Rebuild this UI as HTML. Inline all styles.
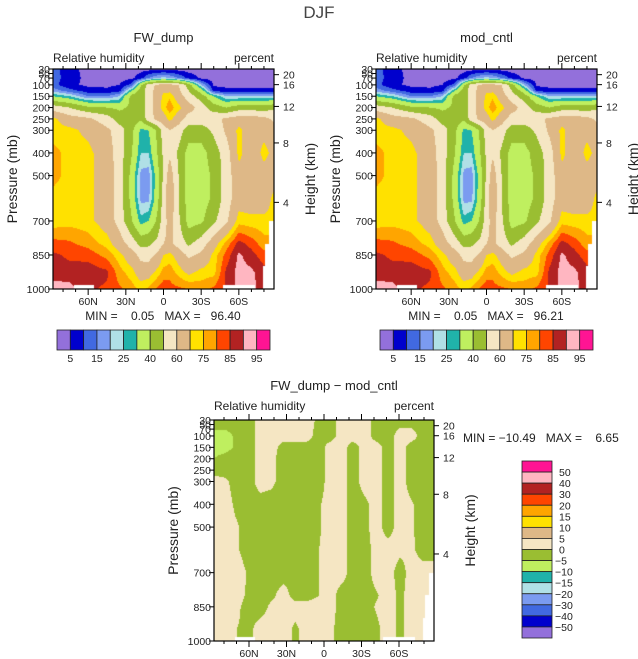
<!DOCTYPE html>
<html><head><meta charset="utf-8"><style>
html,body{margin:0;padding:0;background:#fff;}
#wrap{position:relative;width:638px;height:659px;overflow:hidden;font-family:"Liberation Sans",sans-serif;}
canvas{position:absolute;}
svg{position:absolute;left:0;top:0;}
text{font-family:"Liberation Sans",sans-serif;fill:#222;}
</style></head><body>
<div id="wrap">
<canvas id="c1" width="221" height="220" style="left:53px;top:69px"></canvas>
<canvas id="c2" width="221" height="220" style="left:376px;top:69px"></canvas>
<canvas id="c3" width="220" height="221" style="left:214px;top:420px"></canvas>
<svg id="ov" width="638" height="659"></svg>
</div>
<script>
// ---- data ----
const rhLats = [88,75,60,45,35,25,18,12,5,0,-5,-12,-20,-30,-40,-50,-60,-70,-80,-88];
const rhPres = [30,70,100,125,150,200,250,300,400,500,600,700,800,850,925,1000];
const rhFW = [
[12,7,3,3,3,3,3,3,3,3,3,3,3,3,3,3,3,3,3,3],
[12,8,3,3,3,4,8,15,20,22,20,15,8,4,3,3,3,3,3,3],
[12,6,4,4,5,12,38,55,62,63,63,60,45,20,4,4,4,4,4,4],
[18,12,7,6,8,30,45,55,64,68,68,62,50,35,8,6,6,6,6,6],
[30,25,15,15,20,45,45,55,65,72,74,65,55,45,30,20,20,20,20,20],
[55,50,42,40,38,42,45,55,65,73,78,72,65,55,45,40,45,45,45,48],
[72,65,62,55,45,45,42,55,63,66,72,65,55,55,57,62,65,65,63,58],
[72,72,68,62,55,42,28,30,42,55,60,55,45,45,52,62,72,65,68,65],
[77,73,72,65,55,40,25,25,40,52,58,48,36,36,45,55,72,65,72,68],
[77,73,72,66,55,36,18,17,35,52,66,50,35,35,42,55,67,65,67,66],
[73,72,72,66,55,36,18,18,36,55,70,50,35,35,42,55,66,65,65,72],
[72,73,72,66,56,40,27,30,42,56,64,52,36,38,48,58,73,72,72,72],
[82,81,78,73,65,55,47,48,53,60,62,56,48,55,66,77,87,83,77,77],
[86,84,83,78,72,64,57,56,62,70,72,66,58,62,72,82,91,87,82,82],
[88,87,88,86,77,72,65,66,72,77,78,73,68,72,73,86,92,91,87,87],
[92,92,86,84,81,77,74,76,81,83,82,81,80,78,81,86,92,92,87,87]];
const rhCntl = [
[12,7,3,3,3,3,3,3,3,3,3,3,3,3,3,3,3,3,3,3],
[12,8,3,3,3,4,8,15,20,22,20,15,8,4,3,3,3,3,3,3],
[12,6,4,4,5,12,38,55,62,63,63,60,45,20,4,4,4,4,4,4],
[18,12,7,6,8,30,45,55,64,68,68,62,50,35,8,6,6,6,6,6],
[30,25,15,15,20,45,45,55,65,72,74,65,55,45,30,20,20,20,20,20],
[55,50,42,40,38,42,45,55,65,73,78,72,65,55,45,40,45,45,45,48],
[72,65,62,55,45,45,42,55,63,66,72,65,55,55,57,62,65,65,63,58],
[72,72,68,62,55,42,28,30,42,55,60,55,45,45,52,62,72,65,68,65],
[77,73,72,65,55,40,25,25,40,52,58,48,36,36,45,55,72,65,72,68],
[77,73,72,66,55,36,18,17,35,52,66,50,35,35,42,55,67,65,67,66],
[73,72,72,66,55,36,18,18,36,55,70,50,35,35,42,55,66,65,65,72],
[72,73,72,66,56,40,27,30,42,56,64,52,36,38,48,58,73,72,72,72],
[82,81,78,73,65,55,47,48,53,60,62,56,48,55,66,77,87,83,77,77],
[86,84,83,78,72,64,57,56,62,70,72,66,58,62,72,82,91,87,82,82],
[88,87,88,86,77,72,65,66,72,77,78,73,68,72,73,86,92,91,87,87],
[92,92,86,84,81,77,74,76,81,83,82,81,80,78,81,86,92,92,87,87]];
const diffLats = [88,79,70,60,51,42,32,23,14,4,-5,-14,-23,-33,-42,-51,-61,-70,-79,-88];
const diffPres = [30,100,150,200,250,300,400,500,600,700,800,850,950,1000];
const diffVals = [
[-2,-2,-2,-2,2,2,2,2,2,-1,-2,2,2,2,-2,-2,-2,-2,-2,-2],
[-7,-7,-4,-2,2,2,2,2,2,-2,-2,2,2,2,-2,-2,2,2,-2,-2],
[-7,-7,-4,-2,2,2,-2,-2,-2,-2,2,2,-2,2,2,-2,2,-2,-2,-2],
[-5,-3,-2,-2,2,1,-2,-2,-2,-2,2,2,-2,2,2,-2,2,-2,-2,-2],
[-2,-2,-2,-2,2,1,-2,-2,-2,-2,2,2,-2,2,2,-2,2,-2,-2,-2],
[2,1,-2,-2,2,1,-2,-2,-2,-2,2,2,-2,2,2,-2,2,-2,-2,-2],
[2,2,-1,-2,-2,-2,-2,-2,-2,-0.5,2,2,-2,-1,2,-2,2,0.5,-2,-2],
[2,2,0.5,-2,-2,-2,-2,-2,-2,-0.5,2,2,-2,-1,2,-2,2,0.5,-2,-2],
[2,2,0.5,-2,-2,-2,-2,-2,-2,0,2,2,-2,-2,2,2,1,1,-2,-2],
[2,2,2,-0.5,-2,-2,-2,-2,-2,0,2,2,-2,-2,2,2,-2,2,2,2],
[2,2,2,-1,-2,-1,2,-2,-2,0,2,-2,-2,-2,-0.5,2,-1,2,2,2],
[2,2,1,-2,-2,1,2,2,2,2,2,-2,-2,-2,0.5,2,-1,2,2,2],
[2,2,0,-1,2,2,2,-1,2,2,1,-2,-2,-2,-1,2,-1,2,2,2],
[2,2,0,-1,2,2,2,-1,2,2,1,-2,-2,-2,-1,2,-1,2,2,2]];
// missing-data regions: [latMin, latMax, pMin]
const missingRegions = [[-88,-84,700],[-88,-81,800],[-88,-79.5,900],[-73,-47,981],[55,71.5,981]];
const rhLevels = [5,10,15,20,25,30,40,50,60,70,75,80,85,90,95];
const rhLabels = ["5","15","25","40","60","75","85","95"];
const diffLevels = [-50,-40,-30,-20,-15,-10,-5,0,5,10,15,20,30,40,50];
const diffLabels = ["50","40","30","20","15","10","5","0","\u22125","\u221210","\u221215","\u221220","\u221230","\u221240","\u221250"];
const palette = ["#9370DB","#0000CD","#4169E1","#7B9BF0","#B0E0E6","#20B2AA","#BFEF5F","#9ABE32","#F5E6C3","#DEB887","#FFE100","#FFA500","#FF4500","#B22222","#FFB6C1","#FF1493"];
const presTicks = [30,50,70,100,150,200,250,300,400,500,700,850,1000];
const heightTicks = ["20","16","12","8","4"];
const heightPres = [55,99,195,356,618];
const latMajor = [60,30,0,-30,-60];
const latMajorLabels = ["60N","30N","0","30S","60S"];
const latMinor = [80,70,50,40,20,10,-10,-20,-40,-50,-70,-80];

// ---- helpers ----
function bracket(arr, v, desc){
  for(let i=0;i<arr.length-1;i++){
    const a=arr[i],b=arr[i+1];
    if(desc ? (v<=a && v>=b) : (v>=a && v<=b)) return [i,(v-a)/(b-a)];
  }
  return v<(desc?arr[arr.length-1]:arr[0]) ? (desc?[arr.length-2,1]:[0,0]) : (desc?[0,0]:[arr.length-2,1]);
}
function sample(lats,pres,grid,lat,p){
  const [i,fx]=bracket(lats,lat,true), [j,fy]=bracket(pres,p,false);
  const a=grid[j][i],b=grid[j][i+1],c=grid[j+1][i],d=grid[j+1][i+1];
  return (a*(1-fx)+b*fx)*(1-fy)+(c*(1-fx)+d*fx)*fy;
}
function isMissing(lat,p){
  for(const r of missingRegions){ if(lat>=r[0]&&lat<=r[1]&&p>=r[2]) return true; }
  return false;
}
function levelIndex(levels,v){ let k=0; while(k<levels.length && v>=levels[k]) k++; return k; }
function drawField(id,lats,pres,grid,levels){
  const cv=document.getElementById(id), ctx=cv.getContext('2d');
  const w=cv.width,h=cv.height;
  for(let px=0;px<w;px++){
    const lat=88-(px+0.5)/w*176;
    for(let py=0;py<h;py++){
      const p=30+(py+0.5)/h*970;
      if(isMissing(lat,p)){ctx.fillStyle="#fff";}
      else ctx.fillStyle=palette[levelIndex(levels,sample(lats,pres,grid,lat,p))];
      ctx.fillRect(px,py,1,1);
    }
  }
}
drawField('c1',rhLats,rhPres,rhFW,rhLevels);
drawField('c2',rhLats,rhPres,rhCntl,rhLevels);
drawField('c3',diffLats,diffPres,diffVals,diffLevels);

// ---- svg overlay ----
const NS="http://www.w3.org/2000/svg", ov=document.getElementById('ov');
function el(tag,attrs,parent,txt){
  const e=document.createElementNS(NS,tag);
  for(const k in attrs) e.setAttribute(k,attrs[k]);
  if(txt!==undefined) e.textContent=txt;
  (parent||ov).appendChild(e); return e;
}
let t=el('text',{x:319,y:18,'text-anchor':'middle','font-size':17,style:'fill:#444'},ov,'DJF');



function panel(x0,y0,w,h,title,name,titleY){
  const g=el('g',{});
  
  
  const X=lat=>x0+(88-lat)/176*w, Y=p=>y0+(p-30)/970*h;
  let e=el('text',{x:x0+w/2+(name==='difference'?10:0),y:titleY,'text-anchor':'middle','font-size':13},g,title);
  
  
  e=el('text',{x:x0,y:titleY+20,'font-size':12},g,'Relative humidity');
  
  
  e=el('text',{x:x0+w,y:titleY+20,'text-anchor':'end','font-size':12},g,'percent');
  
  
  e=el('rect',{x:x0,y:y0,width:w,height:h,fill:'none',stroke:'#000','stroke-width':1.2},g);
  
  
  presTicks.forEach(p=>{
    el('line',{x1:x0-5,x2:x0,y1:Y(p),y2:Y(p),stroke:'#000'},g);
    const lt=el('text',{x:x0-3,y:Y(p)+4,'text-anchor':'end','font-size':10.5},g,String(p));
    
    
  });
  heightPres.forEach((p,i)=>{
    el('line',{x1:x0+w,x2:x0+w+5,y1:Y(p),y2:Y(p),stroke:'#000'},g);
    const lt=el('text',{x:x0+w+9,y:Y(p)+4,'font-size':10.5},g,heightTicks[i]);
    
    
  });
  latMajor.forEach((lat,i)=>{
    el('line',{x1:X(lat),x2:X(lat),y1:y0+h,y2:y0+h+6,stroke:'#000'},g);
    el('line',{x1:X(lat),x2:X(lat),y1:y0,y2:y0-6,stroke:'#000'},g);
    const lt=el('text',{x:X(lat),y:y0+h+16,'text-anchor':'middle','font-size':10.5},g,latMajorLabels[i]);
    
    
  });
  latMinor.forEach(lat=>{
    el('line',{x1:X(lat),x2:X(lat),y1:y0+h,y2:y0+h+3,stroke:'#000'},g);
    el('line',{x1:X(lat),x2:X(lat),y1:y0,y2:y0-3,stroke:'#000'},g);
  });
  const cy=y0+h/2;
  e=el('text',{x:0,y:0,'text-anchor':'middle','font-size':14,transform:`translate(${x0-36},${cy}) rotate(-90)`},g,'Pressure (mb)');
  
  
  e=el('text',{x:0,y:0,'text-anchor':'middle','font-size':14,transform:`translate(${x0+w+41},${cy}) rotate(-90)`},g,'Height (km)');
  
  
}
panel(53,69,221,220,'FW_dump','fw-dump',42);
panel(376,69,221,220,'mod_cntl','mod-cntl',42);
panel(214,420,220,221,'FW_dump \u2212 mod_cntl','difference',390);

function minmax(x,y,txt,anchor,name){
  const e=el('text',{x:x,y:y,'text-anchor':anchor,'font-size':12,style:'white-space:pre','xml:space':'preserve'},ov,txt);
  
  
}
minmax(163,320,'MIN =    0.05   MAX =   96.40','middle','fw-dump-min-max');
minmax(486,320,'MIN =    0.05   MAX =   96.21','middle','mod-cntl-min-max');
minmax(463,442,'MIN = \u221210.49   MAX =    6.65','start','difference-min-max');

function hbar(x0,name){
  const g=el('g',{});
  
  
  const bw=213/palette.length;
  palette.forEach((c,i)=>{
    const r=el('rect',{x:x0+i*bw,y:330,width:bw,height:20,fill:c,stroke:'#222','stroke-width':0.8},g);
    
    
  });
  rhLabels.forEach((l,i)=>{
    const lt=el('text',{x:x0+(2*i+1)*bw,y:362,'text-anchor':'middle','font-size':10.5},g,l);
    
    
  });
}
hbar(57,'fw-dump-colorbar');
hbar(380,'mod-cntl-colorbar');

(function(){
  const g=el('g',{});
  
  
  const bh=177/palette.length, top=461;
  palette.slice().reverse().forEach((c,i)=>{
    const r=el('rect',{x:522,y:top+i*bh,width:30,height:bh,fill:c,stroke:'#222','stroke-width':0.8},g);
    
    
  });
  diffLabels.forEach((l,i)=>{
    const lt=el('text',{x:l.charAt(0)==='\u2212'?555:559,y:top+(i+1)*bh+4,'font-size':10.5},g,l);
    
    
  });
})();
</script>
</body></html>
